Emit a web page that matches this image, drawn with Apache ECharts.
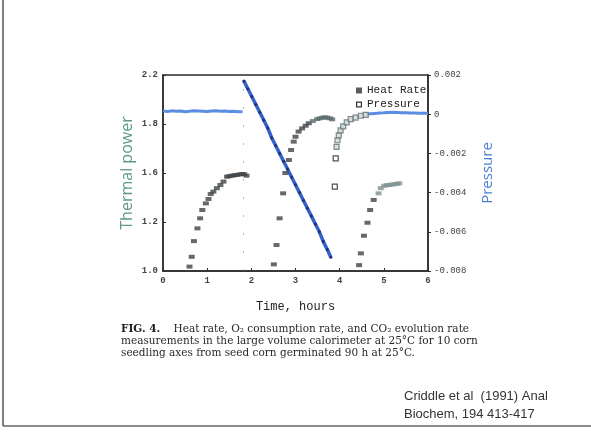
<!DOCTYPE html>
<html>
<head>
<meta charset="utf-8">
<script src="https://cdn.jsdelivr.net/npm/echarts@6/dist/echarts.min.js"></script>
<style>
  html, body { margin: 0; padding: 0; background: #ffffff; }
  #chart { width: 591px; height: 444px; }
</style>
</head>
<body>
<div id="chart"></div>
<script>
// ---- tick labels ----
const xTickLabels = ["0", "1", "2", "3", "4", "5", "6"];
const leftTickLabels = ["1.0", "1.2", "1.6", "1.8", "2.2"];
const rightTickLabels = ["-0.008", "-0.006", "-0.004", "-0.002", "0", "0.002"];

// ---- Heat rate (left axis), time in hours ----
const heatTime = [0.60, 0.65, 0.70, 0.78, 0.84, 0.89, 0.97, 1.03, 1.08, 1.14, 1.22, 1.30, 1.37, 1.45, 1.50, 1.56, 1.62, 1.67, 1.73, 1.79, 1.84, 1.89,
                  2.51, 2.57, 2.64, 2.72, 2.77, 2.85, 2.90, 2.96, 3.00, 3.07, 3.15, 3.23, 3.30, 3.39, 3.49, 3.55, 3.61, 3.67, 3.72, 3.78, 3.83,
                  4.44, 4.48, 4.55, 4.63, 4.69, 4.77, 4.88, 4.93, 5.01, 5.07, 5.12, 5.18, 5.24, 5.30, 5.35];
const heatValue = [1.018, 1.058, 1.122, 1.174, 1.215, 1.249, 1.276, 1.294, 1.314, 1.324, 1.338, 1.351, 1.365, 1.385, 1.387, 1.389, 1.391, 1.392, 1.394, 1.396, 1.395, 1.389,
                   1.027, 1.106, 1.215, 1.317, 1.400, 1.453, 1.494, 1.528, 1.548, 1.569, 1.582, 1.593, 1.603, 1.612, 1.620, 1.623, 1.626, 1.627, 1.626, 1.623, 1.619,
                   1.024, 1.072, 1.144, 1.197, 1.249, 1.290, 1.317, 1.338, 1.348, 1.350, 1.351, 1.353, 1.354, 1.356, 1.358];

// stray open circle near the jump
const circleTime = [1.76];
const circleValue = [1.704];

// ---- Pressure (right axis) ----
const pressFlat1Time = [0.00, 0.10, 0.20, 0.30, 0.40, 0.50, 0.60, 0.70, 0.80, 0.90, 1.00, 1.10, 1.20, 1.30, 1.40, 1.50, 1.60, 1.70, 1.80];
const pressFlat1Value = [0.00016, 0.00014, 0.00017, 0.00015, 0.00016, 0.00013, 0.00015, 0.00017, 0.00016, 0.00015, 0.00014, 0.00016, 0.00017, 0.00015, 0.00016, 0.00014, 0.00015, 0.00013, 0.00012];

const pressDropTime = [1.83, 1.92, 2.01, 2.10, 2.19, 2.28, 2.37, 2.46, 2.55, 2.64, 2.73, 2.82, 2.91, 3.00, 3.09, 3.18, 3.27, 3.36, 3.45, 3.54, 3.63, 3.72, 3.80];
const pressDropValue = [0.0017, 0.0013, 0.0009, 0.0005, 0.0001, -0.0003, -0.0007, -0.0012, -0.0016, -0.0020, -0.0024, -0.0028, -0.0032, -0.0036, -0.0040, -0.0044, -0.0048, -0.0052, -0.0056, -0.0060, -0.0065, -0.0069, -0.0073];

const pressOpenTime = [3.91, 3.89];
const pressOpenValue = [-0.00225, -0.0037];

const pressRiseTime = [3.93, 3.95, 3.98, 4.02, 4.08, 4.16, 4.25, 4.36, 4.48, 4.59];
const pressRiseValue = [-0.00167, -0.00133, -0.00108, -0.00083, -0.00062, -0.00042, -0.00025, -0.00017, -0.00008, -0.00003];

const pressFlat2Time = [4.60, 4.70, 4.80, 4.90, 5.00, 5.10, 5.20, 5.30, 5.40, 5.50, 5.60, 5.70, 5.80, 5.90, 6.00];
const pressFlat2Value = [0.00000, 0.00002, 0.00004, 0.00006, 0.00007, 0.00009, 0.00010, 0.00009, 0.00008, 0.00007, 0.00006, 0.00006, 0.00005, 0.00005, 0.00005];

// ---- texts ----
const captionLines = [
  "Heat rate, O\u2082 consumption rate, and CO\u2082 evolution rate",
  "measurements in the large volume calorimeter at 25\u00B0C for 10 corn",
  "seedling axes from seed corn germinated 90 h at 25\u00B0C."
];
const citationLines = ["Criddle et al  (1991) Anal", "Biochem, 194 413-417"];

const zip = (a, b) => a.map((v, i) => [v, b[i]]);

const chart = echarts.init(document.getElementById('chart'), null, { renderer: 'canvas' });

const monoFont = 'Liberation Mono, DejaVu Sans Mono, monospace';
const serifFont = 'DejaVu Serif, Liberation Serif, serif';

const option = {
  backgroundColor: '#ffffff',
  animation: false,
  grid: { left: 163, right: 163, top: 75, bottom: 173, show: true, borderColor: '#2b2b2b', borderWidth: 1.5, backgroundColor: 'transparent' },
  legend: {
    orient: 'vertical', left: 351, top: 80, itemWidth: 6, itemHeight: 6, itemGap: 3,
    textStyle: { fontFamily: monoFont, fontSize: 11, color: '#222' },
    data: [
      { name: 'Heat Rate', icon: 'rect', itemStyle: { color: '#333' } },
      { name: 'Pressure', icon: 'path://M0,0H10V10H0Z M2,2V8H8V2Z', itemStyle: { color: '#333' } }
    ]
  },
  xAxis: {
    type: 'value', min: 0, max: 6, interval: 1,
    axisLine: { show: true, onZero: false, lineStyle: { color: '#2b2b2b', width: 1.5 } },
    axisTick: { show: true, inside: true, length: 3, lineStyle: { color: '#2b2b2b' } },
    splitLine: { show: false },
    axisLabel: { fontFamily: monoFont, fontSize: 9, fontWeight: 'bold', color: '#444', margin: 5,
      formatter: v => xTickLabels[Math.round(v)] },
    name: 'Time, hours', nameLocation: 'middle', nameGap: 30,
    nameTextStyle: { fontFamily: monoFont, fontSize: 12, color: '#222' }
  },
  yAxis: [
    {
      type: 'value', min: 1.0, max: 1.8, interval: 0.2, position: 'left',
      axisLine: { show: true, onZero: false, lineStyle: { color: '#2b2b2b', width: 1.5 } },
      axisTick: { show: true, inside: true, length: 3, lineStyle: { color: '#2b2b2b' } },
      splitLine: { show: false },
      axisLabel: { fontFamily: monoFont, fontSize: 9, fontWeight: 'bold', color: '#444', margin: 5,
        formatter: v => leftTickLabels[Math.round((v - 1.0) / 0.2)] },
      name: 'Thermal power', nameLocation: 'middle', nameGap: 28, nameRotate: 90,
      nameTextStyle: { fontFamily: 'Open Sans, Liberation Sans, sans-serif', fontSize: 16, color: '#5e9c7e' }
    },
    {
      type: 'value', min: -0.008, max: 0.002, interval: 0.002, position: 'right',
      axisLine: { show: true, onZero: false, lineStyle: { color: '#2b2b2b', width: 1.5 } },
      axisTick: { show: true, inside: false, length: 3, lineStyle: { color: '#2b2b2b' } },
      splitLine: { show: false },
      axisLabel: { fontFamily: monoFont, fontSize: 9, color: '#444', margin: 6,
        formatter: v => rightTickLabels[Math.round((v + 0.008) / 0.002)] },
      name: 'Pressure', nameLocation: 'middle', nameGap: 52, nameRotate: 90,
      nameTextStyle: { fontFamily: 'Open Sans, Liberation Sans, sans-serif', fontSize: 15, color: '#4a7fd6' }
    }
  ],
  series: [
    {
      name: 'Pressure', type: 'line', yAxisIndex: 1, data: zip(pressFlat1Time, pressFlat1Value),
      showSymbol: false, lineStyle: { color: '#5b8de2', width: 3 }, z: 2
    },
    {
      name: 'Pressure', type: 'line', yAxisIndex: 1, data: zip(pressDropTime, pressDropValue),
      symbol: 'circle', symbolSize: 3, itemStyle: { color: '#1f2f78' },
      lineStyle: { color: '#3561c9', width: 3.5 }, z: 3
    },
    {
      name: 'Pressure', type: 'line', yAxisIndex: 1, data: zip(pressFlat2Time, pressFlat2Value),
      showSymbol: false, lineStyle: { color: '#5b8de2', width: 3 }, z: 2
    },
    {
      name: 'Pressure', type: 'scatter', yAxisIndex: 1, data: zip(pressRiseTime, pressRiseValue),
      symbol: 'rect', symbolSize: [5, 5],
      itemStyle: { color: '#cfd6d6', borderColor: '#5f7070', borderWidth: 1.2 }, z: 4
    },
    {
      name: 'Pressure', type: 'scatter', yAxisIndex: 1, data: zip(pressOpenTime, pressOpenValue),
      symbol: 'rect', symbolSize: [5, 5],
      itemStyle: { color: '#ffffff', borderColor: '#222', borderWidth: 1.2 }, z: 4
    },
    {
      name: 'Heat Rate', type: 'scatter', yAxisIndex: 0, data: zip(heatTime, heatValue),
      symbol: 'rect', symbolSize: [6, 4],
      itemStyle: { color: p => (p.value[0] > 4.85 ? '#7e9292' : (p.value[0] > 3.3 && p.value[0] < 4 ? '#5a6c70' : '#3f4347')) },
      z: 5,
      markLine: {
        silent: true, symbol: 'none', label: { show: false },
        lineStyle: { color: '#9a9a9a', type: [2, 16], width: 1, opacity: 0.7 },
        data: [{ xAxis: 1.82 }]
      }
    },
    {
      name: 'marker', type: 'scatter', yAxisIndex: 0, data: zip(circleTime, circleValue),
      symbol: 'emptyCircle', symbolSize: 5,
      itemStyle: { color: '#ffffff', borderColor: '#8a8a7a', borderWidth: 1.2 }, z: 5
    }
  ],
  graphic: [
    { type: 'line', shape: { x1: 3, y1: 0, x2: 3, y2: 426 }, style: { stroke: '#555', lineWidth: 1.5 } },
    { type: 'line', shape: { x1: 3, y1: 426, x2: 591, y2: 426 }, style: { stroke: '#666', lineWidth: 1.5 } },
    {
      type: 'text', left: 121, top: 324,
      style: {
        text: '{b|FIG. 4.}    ' + captionLines[0],
        rich: { b: { fontFamily: serifFont, fontSize: 10.5, fontWeight: 'bold', fill: '#1e1e1e' } },
        fontFamily: serifFont, fontSize: 10.5, fill: '#2a2a2a'
      }
    },
    { type: 'text', left: 121, top: 336, style: { text: captionLines[1], fontFamily: serifFont, fontSize: 10.5, fill: '#2a2a2a' } },
    { type: 'text', left: 121, top: 348, style: { text: captionLines[2], fontFamily: serifFont, fontSize: 10.5, fill: '#2a2a2a' } },
    { type: 'text', left: 404, top: 390, style: { text: citationLines[0], fontFamily: 'Liberation Sans, Arial, sans-serif', fontSize: 13, fill: '#333' } },
    { type: 'text', left: 404, top: 408, style: { text: citationLines[1], fontFamily: 'Liberation Sans, Arial, sans-serif', fontSize: 13, fill: '#333' } }
  ]
};

chart.setOption(option);
</script>
</body>
</html>
